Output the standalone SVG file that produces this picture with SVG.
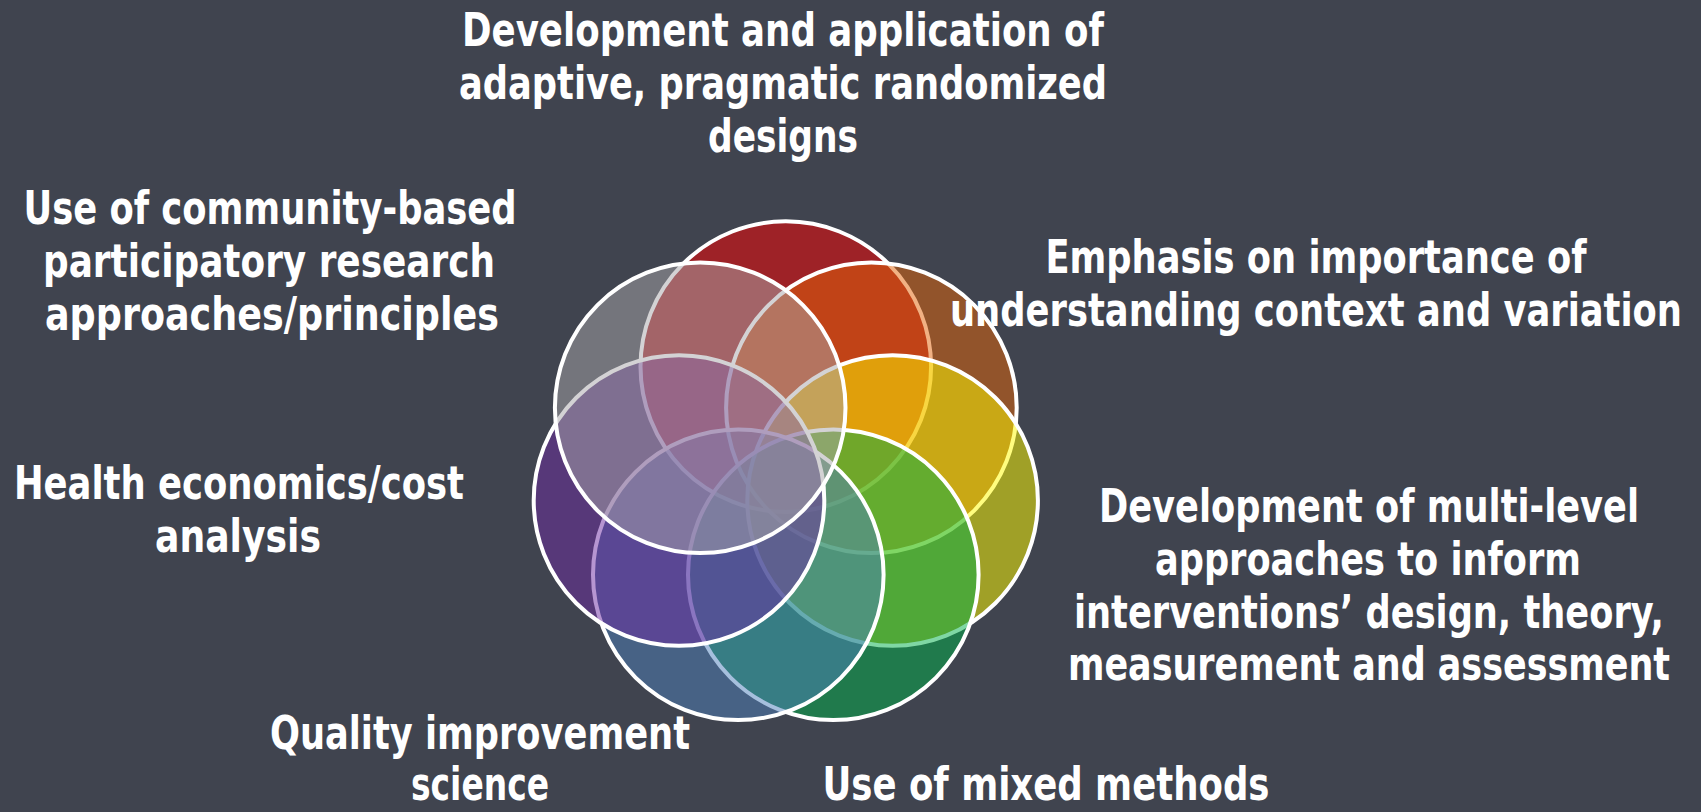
<svg xmlns="http://www.w3.org/2000/svg" width="1701" height="812" viewBox="0 0 1701 812">
<style>
.bg{fill:#40444f}
.c{stroke:#ffffff;stroke-width:4;fill-opacity:0.5}
.t{fill:#ffffff;font-family:"Liberation Sans Narrow","DejaVu Sans Condensed","Liberation Sans",sans-serif;font-weight:bold;font-size:46px;text-anchor:middle}
</style>
<rect class="bg" x="0" y="0" width="1701" height="812"/>
<g id="circles">
<g id="c-adaptive"><circle class="c" cx="785.8" cy="366.6" r="145.3" fill="#fb0000"/></g>
<g id="c-context"><circle class="c" cx="871.4" cy="407.8" r="145.3" fill="#e46407"/></g>
<g id="c-multilevel"><circle class="c" cx="892.6" cy="500.5" r="145.3" fill="#fffc00"/></g>
<g id="c-mixed"><circle class="c" cx="833.3" cy="574.8" r="145.3" fill="#00b049"/></g>
<g id="c-quality"><circle class="c" cx="738.3" cy="574.8" r="145.3" fill="#4e80bb"/></g>
<g id="c-economics"><circle class="c" cx="679.0" cy="500.5" r="145.3" fill="#6e2ca3"/></g>
<g id="c-cbpr"><circle class="c" cx="700.2" cy="407.8" r="145.3" fill="#a8a6a9"/></g>
</g>
<g id="connectors"></g>
<g id="label-adaptive">
<text class="t" x="783" y="46" transform="matrix(0.78,0,0,1,172.26,0)" textLength="823.1" lengthAdjust="spacingAndGlyphs">Development and application of</text>
<text class="t" x="783" y="99" transform="matrix(0.78,0,0,1,172.26,0)" textLength="830.8" lengthAdjust="spacingAndGlyphs">adaptive, pragmatic randomized</text>
<text class="t" x="783" y="152" transform="matrix(0.78,0,0,1,172.26,0)" textLength="192.3" lengthAdjust="spacingAndGlyphs">designs</text>
</g>
<g id="label-cbpr">
<text class="t" x="270" y="224" transform="matrix(0.78,0,0,1,59.4,0)" textLength="632.1" lengthAdjust="spacingAndGlyphs">Use of community-based</text>
<text class="t" x="269" y="277" transform="matrix(0.78,0,0,1,59.18,0)" textLength="579.5" lengthAdjust="spacingAndGlyphs">participatory research</text>
<text class="t" x="272" y="330" transform="matrix(0.78,0,0,1,59.84,0)" textLength="582.1" lengthAdjust="spacingAndGlyphs">approaches/principles</text>
</g>
<g id="label-context">
<text class="t" x="1316" y="273" transform="matrix(0.78,0,0,1,289.52,0)" textLength="693.6" lengthAdjust="spacingAndGlyphs">Emphasis on importance of</text>
<text class="t" x="1316" y="326" transform="matrix(0.78,0,0,1,289.52,0)" textLength="938.5" lengthAdjust="spacingAndGlyphs">understanding context and variation</text>
</g>
<g id="label-economics">
<text class="t" x="239" y="499" transform="matrix(0.78,0,0,1,52.58,0)" textLength="576.9" lengthAdjust="spacingAndGlyphs">Health economics/cost</text>
<text class="t" x="238" y="552" transform="matrix(0.78,0,0,1,52.36,0)" textLength="212.8" lengthAdjust="spacingAndGlyphs">analysis</text>
</g>
<g id="label-multilevel">
<text class="t" x="1369" y="522" transform="matrix(0.78,0,0,1,301.18,0)" textLength="692.3" lengthAdjust="spacingAndGlyphs">Development of multi-level</text>
<text class="t" x="1368" y="575" transform="matrix(0.78,0,0,1,300.96,0)" textLength="546.2" lengthAdjust="spacingAndGlyphs">approaches to inform</text>
<text class="t" x="1369" y="628" transform="matrix(0.78,0,0,1,301.18,0)" textLength="756.4" lengthAdjust="spacingAndGlyphs">interventions’ design, theory,</text>
<text class="t" x="1369" y="680" transform="matrix(0.78,0,0,1,301.18,0)" textLength="771.8" lengthAdjust="spacingAndGlyphs">measurement and assessment</text>
</g>
<g id="label-quality">
<text class="t" x="480" y="749" transform="matrix(0.78,0,0,1,105.6,0)" textLength="538.5" lengthAdjust="spacingAndGlyphs">Quality improvement</text>
<text class="t" x="480" y="800" transform="matrix(0.78,0,0,1,105.6,0)" textLength="176.9" lengthAdjust="spacingAndGlyphs">science</text>
</g>
<g id="label-mixed">
<text class="t" x="1046" y="800" transform="matrix(0.78,0,0,1,230.12,0)" textLength="573.1" lengthAdjust="spacingAndGlyphs">Use of mixed methods</text>
</g>
</svg>
